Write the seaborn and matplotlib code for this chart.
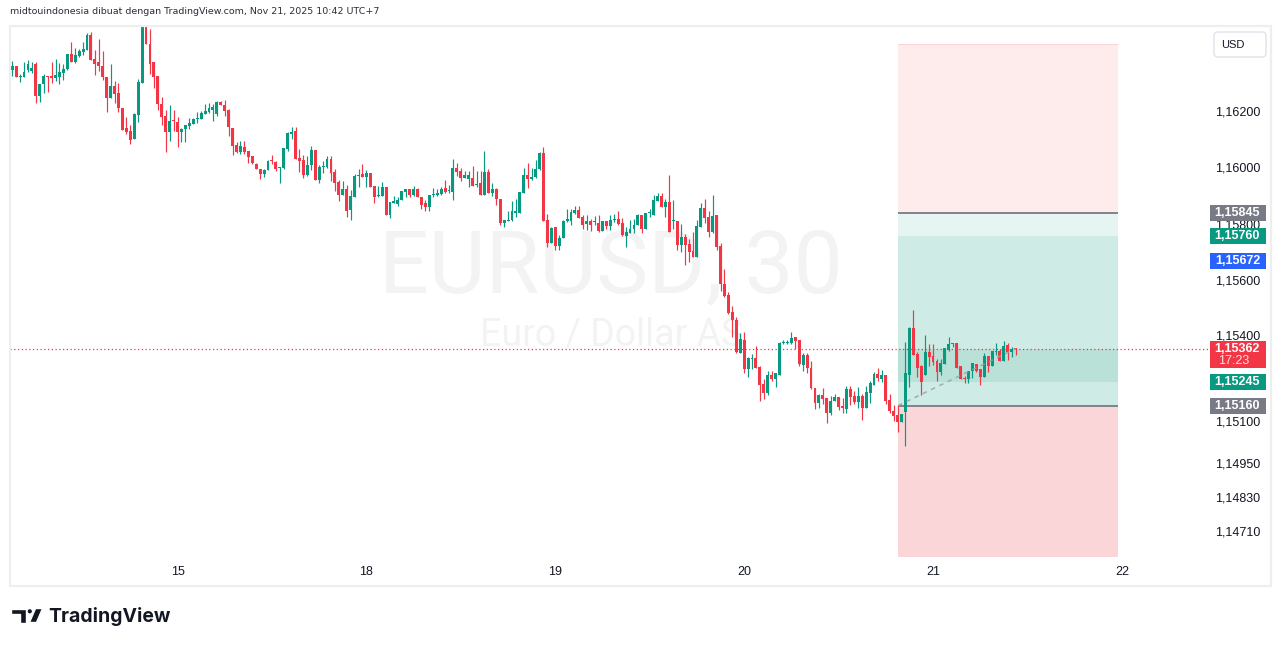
import numpy as np
import pandas as pd
import matplotlib
matplotlib.use("Agg")
import matplotlib.pyplot as plt
import matplotlib.transforms as mtrans
from matplotlib.patches import Rectangle, FancyBboxPatch, Polygon, Circle
import seaborn as sns

# ---------------- data (EURUSD 30m candles) ----------------
open_ = [1.16377,1.16351,1.16365,1.16327,1.16327,1.16351,1.16348,1.16372,1.16259,1.16299,
         1.16329,1.16329,1.16322,1.16327,1.16341,1.16353,1.16407,1.16379,1.16400,1.16415,
         1.16422,1.16476,1.16389,1.16377,1.16365,1.16327,1.16251,1.16294,1.16270,1.16216,
         1.16143,1.16133,1.16107,1.16192,1.16303,1.16530,1.16443,1.16377,1.16329,1.16230,
         1.16188,1.16129,1.16171,1.16166,1.16132,1.16140,1.16151,1.16158,1.16177,1.16177,
         1.16194,1.16201,1.16210,1.16194,1.16236,1.16227,1.16208,1.16144,1.16083,1.16059,
         1.16078,1.16064,1.16045,1.16017,1.16000,1.15981,1.15995,1.16028,1.16024,1.16002,
         1.16002,1.16071,1.16123,1.16135,1.16038,1.16031,1.15979,1.16012,1.16066,1.15960,
         1.16007,1.16007,1.16036,1.15988,1.15953,1.15908,1.15929,1.15854,1.15901,1.15974,
         1.15981,1.15970,1.15984,1.15939,1.15903,1.15903,1.15937,1.15837,1.15880,1.15875,
         1.15889,1.15918,1.15927,1.15908,1.15929,1.15901,1.15877,1.15866,1.15908,1.15908,
         1.15911,1.15932,1.15922,1.15918,1.16003,1.15991,1.15967,1.15965,1.15967,1.15944,
         1.15948,1.15908,1.15989,1.15915,1.15927,1.15894,1.15807,1.15816,1.15818,1.15844,
         1.15844,1.15915,1.15979,1.15965,1.15970,1.15998,1.16057,1.15818,1.15738,1.15792,
         1.15726,1.15755,1.15814,1.15816,1.15844,1.15854,1.15828,1.15804,1.15814,1.15811,
         1.15807,1.15781,1.15814,1.15797,1.15818,1.15821,1.15807,1.15762,1.15773,1.15785,
         1.15799,1.15837,1.15788,1.15842,1.15837,1.15887,1.15903,1.15866,1.15882,1.15814,
         1.15814,1.15731,1.15757,1.15733,1.15707,1.15686,1.15795,1.15861,1.15828,1.15776,
         1.15835,1.15726,1.15592,1.15552,1.15492,1.15464,1.15348,1.15393,1.15291,1.15327,
         1.15329,1.15296,1.15237,1.15204,1.15268,1.15256,1.15270,1.15381,1.15381,1.15381,
         1.15403,1.15393,1.15306,1.15341,1.15294,1.15223,1.15169,1.15197,1.15187,1.15135,
         1.15178,1.15190,1.15159,1.15150,1.15218,1.15195,1.15173,1.15195,1.15152,1.15204,
         1.15235,1.15273,1.15256,1.15268,1.15180,1.15140,1.15126,1.15102,1.15138,1.15270,
         1.15436,1.15344,1.15299,1.15268,1.15351,1.15336,1.15318,1.15280,1.15308,1.15358,
         1.15379,1.15381,1.15299,1.15258,1.15256,1.15282,1.15308,1.15289,1.15261,1.15336,
         1.15301,1.15351,1.15353,1.15320,1.15374,1.15351,1.15364]
high = [1.16377,1.16384,1.16365,1.16337,1.16379,1.16386,1.16377,1.16377,1.16301,1.16337,
        1.16329,1.16377,1.16391,1.16374,1.16372,1.16407,1.16448,1.16429,1.16426,1.16450,
        1.16483,1.16485,1.16422,1.16462,1.16419,1.16327,1.16370,1.16311,1.16303,1.16216,
        1.16183,1.16155,1.16199,1.16318,1.16560,1.16560,1.16495,1.16377,1.16329,1.16254,
        1.16207,1.16225,1.16207,1.16185,1.16144,1.16156,1.16180,1.16180,1.16201,1.16206,
        1.16229,1.16232,1.16229,1.16239,1.16241,1.16244,1.16213,1.16144,1.16095,1.16097,
        1.16099,1.16064,1.16045,1.16021,1.16000,1.15998,1.16031,1.16050,1.16028,1.16005,
        1.16073,1.16130,1.16149,1.16147,1.16071,1.16050,1.16047,1.16080,1.16066,1.16012,
        1.16028,1.16045,1.16045,1.16000,1.15962,1.15958,1.15943,1.15925,1.15981,1.16000,
        1.16017,1.15996,1.15986,1.15939,1.15939,1.15953,1.15937,1.15882,1.15903,1.15901,
        1.15922,1.15927,1.15927,1.15939,1.15932,1.15901,1.15889,1.15908,1.15932,1.15930,
        1.15937,1.15960,1.15941,1.16033,1.16019,1.16003,1.15991,1.15991,1.16010,1.15993,
        1.15991,1.16062,1.16000,1.15951,1.15932,1.15894,1.15818,1.15851,1.15885,1.15892,
        1.15918,1.16003,1.16019,1.16003,1.16031,1.16059,1.16076,1.15840,1.15795,1.15792,
        1.15766,1.15818,1.15856,1.15859,1.15868,1.15868,1.15835,1.15835,1.15823,1.15833,
        1.15835,1.15814,1.15814,1.15837,1.15840,1.15849,1.15825,1.15792,1.15818,1.15821,
        1.15840,1.15837,1.15842,1.15859,1.15906,1.15915,1.15915,1.15894,1.15977,1.15889,
        1.15814,1.15804,1.15769,1.15750,1.15776,1.15818,1.15880,1.15892,1.15851,1.15906,
        1.15837,1.15736,1.15646,1.15563,1.15514,1.15474,1.15417,1.15422,1.15334,1.15344,
        1.15372,1.15299,1.15256,1.15282,1.15282,1.15275,1.15386,1.15393,1.15393,1.15422,
        1.15405,1.15393,1.15346,1.15348,1.15318,1.15223,1.15202,1.15223,1.15187,1.15195,
        1.15202,1.15192,1.15187,1.15230,1.15230,1.15211,1.15228,1.15202,1.15230,1.15247,
        1.15280,1.15294,1.15287,1.15268,1.15202,1.15161,1.15164,1.15131,1.15386,1.15440,
        1.15500,1.15351,1.15303,1.15410,1.15379,1.15379,1.15327,1.15327,1.15365,1.15403,
        1.15384,1.15384,1.15299,1.15266,1.15284,1.15310,1.15308,1.15289,1.15346,1.15336,
        1.15355,1.15381,1.15362,1.15388,1.15381,1.15367,1.15365]
low = [1.16353,1.16329,1.16327,1.16308,1.16327,1.16344,1.16341,1.16235,1.16237,1.16270,
       1.16273,1.16303,1.16311,1.16299,1.16315,1.16351,1.16379,1.16374,1.16396,1.16405,
       1.16422,1.16386,1.16334,1.16348,1.16315,1.16202,1.16251,1.16235,1.16202,1.16138,
       1.16124,1.16088,1.16107,1.16166,1.16303,1.16441,1.16337,1.16285,1.16209,1.16155,
       1.16060,1.16100,1.16133,1.16079,1.16095,1.16095,1.16142,1.16158,1.16161,1.16175,
       1.16194,1.16199,1.16170,1.16189,1.16225,1.16189,1.16116,1.16050,1.16057,1.16052,
       1.16052,1.16021,1.16017,1.15998,1.15965,1.15972,1.15995,1.16017,1.15993,1.15950,
       1.15998,1.16064,1.16106,1.16033,1.15988,1.15969,1.15976,1.15995,1.15960,1.15950,
       1.15984,1.16002,1.15955,1.15922,1.15887,1.15908,1.15830,1.15818,1.15901,1.15937,
       1.15970,1.15937,1.15934,1.15880,1.15899,1.15903,1.15837,1.15825,1.15877,1.15868,
       1.15889,1.15901,1.15899,1.15903,1.15899,1.15859,1.15849,1.15849,1.15901,1.15903,
       1.15908,1.15915,1.15915,1.15889,1.15974,1.15955,1.15967,1.15934,1.15939,1.15934,
       1.15908,1.15908,1.15915,1.15903,1.15873,1.15799,1.15792,1.15816,1.15816,1.15828,
       1.15842,1.15915,1.15932,1.15960,1.15967,1.15996,1.15816,1.15724,1.15738,1.15712,
       1.15712,1.15755,1.15811,1.15802,1.15840,1.15825,1.15785,1.15783,1.15781,1.15802,
       1.15776,1.15778,1.15788,1.15783,1.15811,1.15799,1.15762,1.15724,1.15771,1.15771,
       1.15799,1.15773,1.15788,1.15830,1.15837,1.15887,1.15866,1.15830,1.15776,1.15788,
       1.15712,1.15705,1.15658,1.15669,1.15686,1.15686,1.15795,1.15809,1.15759,1.15771,
       1.15712,1.15568,1.15544,1.15485,1.15403,1.15348,1.15346,1.15277,1.15261,1.15291,
       1.15294,1.15176,1.15183,1.15199,1.15249,1.15228,1.15270,1.15379,1.15379,1.15377,
       1.15362,1.15301,1.15284,1.15275,1.15218,1.15147,1.15150,1.15166,1.15098,1.15126,
       1.15176,1.15145,1.15135,1.15133,1.15161,1.15166,1.15150,1.15109,1.15152,1.15171,
       1.15232,1.15247,1.15244,1.15166,1.15135,1.15107,1.15067,1.15102,1.15017,1.15228,
       1.15341,1.15263,1.15199,1.15268,1.15301,1.15303,1.15249,1.15268,1.15308,1.15353,
       1.15367,1.15292,1.15254,1.15240,1.15240,1.15258,1.15280,1.15235,1.15261,1.15280,
       1.15301,1.15339,1.15320,1.15320,1.15322,1.15334,1.15341]
close = [1.16353,1.16365,1.16327,1.16329,1.16344,1.16372,1.16358,1.16259,1.16301,1.16329,
         1.16325,1.16322,1.16334,1.16344,1.16355,1.16407,1.16379,1.16403,1.16419,1.16424,
         1.16476,1.16386,1.16372,1.16363,1.16327,1.16251,1.16294,1.16266,1.16214,1.16138,
         1.16131,1.16103,1.16195,1.16308,1.16530,1.16441,1.16372,1.16327,1.16230,1.16185,
         1.16129,1.16171,1.16169,1.16131,1.16142,1.16156,1.16163,1.16177,1.16180,1.16199,
         1.16206,1.16215,1.16220,1.16236,1.16225,1.16206,1.16147,1.16080,1.16059,1.16080,
         1.16059,1.16043,1.16019,1.16000,1.15981,1.15995,1.16028,1.16026,1.16000,1.16005,
         1.16073,1.16128,1.16132,1.16033,1.16026,1.15979,1.16014,1.16066,1.15960,1.16007,
         1.16010,1.16036,1.15984,1.15950,1.15908,1.15929,1.15851,1.15903,1.15974,1.15979,
         1.15970,1.15984,1.15934,1.15901,1.15908,1.15937,1.15837,1.15882,1.15885,1.15889,
         1.15922,1.15927,1.15908,1.15929,1.15899,1.15873,1.15866,1.15908,1.15911,1.15913,
         1.15929,1.15918,1.15925,1.16003,1.15989,1.15967,1.15979,1.15979,1.15939,1.15946,
         1.15908,1.15989,1.15915,1.15927,1.15892,1.15807,1.15818,1.15818,1.15849,1.15849,
         1.15918,1.15979,1.15965,1.15972,1.16000,1.16057,1.15816,1.15738,1.15790,1.15726,
         1.15755,1.15814,1.15821,1.15847,1.15854,1.15825,1.15802,1.15814,1.15802,1.15814,
         1.15778,1.15814,1.15797,1.15818,1.15821,1.15804,1.15766,1.15776,1.15788,1.15799,
         1.15837,1.15788,1.15842,1.15844,1.15889,1.15903,1.15866,1.15882,1.15776,1.15816,
         1.15731,1.15757,1.15731,1.15705,1.15688,1.15797,1.15861,1.15825,1.15776,1.15833,
         1.15721,1.15592,1.15549,1.15488,1.15464,1.15351,1.15396,1.15291,1.15329,1.15329,
         1.15294,1.15235,1.15204,1.15268,1.15256,1.15275,1.15381,1.15386,1.15384,1.15400,
         1.15391,1.15308,1.15339,1.15294,1.15223,1.15169,1.15197,1.15185,1.15135,1.15178,
         1.15192,1.15157,1.15152,1.15218,1.15192,1.15173,1.15195,1.15152,1.15209,1.15242,
         1.15273,1.15258,1.15268,1.15178,1.15140,1.15124,1.15102,1.15131,1.15275,1.15436,
         1.15341,1.15294,1.15244,1.15351,1.15334,1.15315,1.15280,1.15310,1.15365,1.15377,
         1.15381,1.15294,1.15256,1.15256,1.15284,1.15310,1.15282,1.15261,1.15336,1.15301,
         1.15353,1.15353,1.15320,1.15372,1.15351,1.15360,1.15362]

day_labels = ["15", "18", "19", "20", "21", "22"]
day_candle_index = [43, 91, 139, 187, 235, 283]

price_ticks = [1.16200, 1.16000, 1.15800, 1.15600, 1.15400, 1.15100, 1.14950, 1.14830, 1.14710]
price_tick_labels = ["1,16200", "1,16000", "1,15800", "1,15600", "1,15400",
                     "1,15100", "1,14950", "1,14830", "1,14710"]

last_price = 1.15362
last_price_label = "1,15362"
countdown = "17:23"
level_labels = ["1,15845", "1,15760", "1,15672", "1,15245", "1,15160"]
level_values = [1.15845, 1.15760, 1.15672, 1.15245, 1.15160]
level_colors = ["#787b86", "#089981", "#2962ff", "#089981", "#787b86"]

# position tool zones (price bounds)
short_stop, short_entry = 1.16443, 1.15845
long_target, long_entry, long_stop = 1.15760, 1.15160, 1.14623
progress_lo, progress_hi = 1.15245, 1.15362
tool_start, tool_end = 226.1, 282.0

header = "midtouindonesia dibuat dengan TradingView.com, Nov 21, 2025 10:42 UTC+7"

# ---------------- style ----------------
sns.set_theme(style="white")
plt.rcParams["font.family"] = ["Liberation Sans", "DejaVu Sans"]

W, H = 1281, 646
fig = plt.figure(figsize=(W / 100, H / 100), dpi=100)
fig.patch.set_facecolor("white")

UP, DN = "#089981", "#f23645"
TXT = "#131722"

# pane in pixels: x 10..1208, y 27..586
pl, pr, pt, pb = 10, 1208, 27, 586
ax = fig.add_axes([pl / W, 1 - pb / H, (pr - pl) / W, (pb - pt) / H])
ax.set_facecolor("white")
y_top = 1.154 + (338 - pt) / 28200
y_bot = 1.154 - (pb - 338) / 28200
ax.set_ylim(y_bot, y_top)
x0, dx = 8.3, 3.935
ax.set_xlim((pl - x0) / dx, (pr - x0) / dx)
ax.axis("off")

ov = fig.add_axes([0, 0, 1, 1], zorder=5)
ov.set_xlim(0, W)
ov.set_ylim(H, 0)
ov.axis("off")
ov.patch.set_alpha(0)

df = pd.DataFrame({"open": open_, "high": high, "low": low, "close": close})
df["idx"] = np.arange(len(df))
df["up"] = df["close"] >= df["open"]
df["color"] = np.where(df["up"], UP, DN)

# watermark
ax.text((611 - pl) / (pr - pl), 1 - (268 - pt) / (pb - pt), "EURUSD, 30",
        transform=ax.transAxes, ha="center", va="center", fontsize=63,
        family="Roboto", color="#f3f3f4", zorder=0)
ax.text((612 - pl) / (pr - pl), 1 - (336 - pt) / (pb - pt), "Euro / Dollar AS",
        transform=ax.transAxes, ha="center", va="center", fontsize=27,
        family="Roboto", color="#f3f3f4", zorder=0)

# position tool zones
def zone(lo, hi, col, z=1):
    ax.add_patch(Rectangle((tool_start, lo), tool_end - tool_start, hi - lo,
                           facecolor=col, edgecolor="none", zorder=z))

zone(short_entry, short_stop, "#feebec")
zone(long_target, short_entry, "#e6f5f2")
zone(long_entry, long_target, "#cfebe5")
zone(progress_lo, progress_hi, "#b9e1d7", 1.5)
zone(long_stop, long_entry, "#fbd6d9")
ax.hlines([short_stop], tool_start, tool_end, color="#fcd3d7", lw=0.8, zorder=2)
ax.hlines([short_entry, long_entry], tool_start, tool_end, color="#787b86", lw=1.3, zorder=2)

# candles
ax.vlines(df["idx"], df["low"], df["high"], colors=df["color"], lw=0.85, zorder=3)
body_lo = np.minimum(df["open"], df["close"])
body_h = np.maximum(np.abs(df["close"] - df["open"]), 0.000035)
ax.bar(df["idx"], body_h, bottom=body_lo, width=0.74, color=df["color"],
       linewidth=0, zorder=4)

# dashed connector from entry to last price
ax.plot([tool_start, df["idx"].iloc[-1]], [long_entry, last_price],
        color="#9aa0aa", lw=1.1, ls=(0, (3, 3)), alpha=0.85, zorder=5)

# last price dotted line
ax.axhline(last_price, color=DN, lw=0.9, ls=(0, (1, 2)), zorder=2.5)

# ---------------- overlay (pixel coordinates) ----------------
ov.add_patch(Rectangle((10, 26), 1261, 560, fill=False, edgecolor="#eeeeee", lw=1.6))
ov.text(10, 12, header, ha="left", va="center", fontsize=6.8,
        family="DejaVu Sans", color="#2a2e39")

# date labels
tx = mtrans.blended_transform_factory(ax.transData, ov.transData)
for lab, pos in zip(day_labels, day_candle_index):
    ov.text(pos, 572, lab, transform=tx, ha="center", va="center",
            fontsize=9, color=TXT)

# price scale
ty = mtrans.blended_transform_factory(ov.transData, ax.transData)
px_per = 28200
for v, lab in zip(price_ticks, price_tick_labels):
    dy = 1.5 if lab == "1,15400" else 0
    ov.text(1260, v + dy / px_per, lab, transform=ty, ha="right", va="center",
            fontsize=9, color=TXT)

def box(price, col, h_px=16, dy_px=0):
    h = h_px / px_per
    ov.add_patch(Rectangle((1210, price - h / 2 + dy_px / px_per), 56, h,
                           transform=ty, facecolor=col, edgecolor="none", zorder=6))

for lab, v, col in zip(level_labels, level_values, level_colors):
    box(v, col)
    ov.text(1260, v, lab, transform=ty, ha="right", va="center", fontsize=9,
            color="white", fontweight="bold", zorder=7)

box(last_price, DN, h_px=27, dy_px=-6)
ov.text(1260, last_price - 0.5 / px_per, last_price_label, transform=ty, ha="right",
        va="center", fontsize=9, color="white", fontweight="bold", zorder=7)
ov.text(1218, last_price - 12.5 / px_per, countdown, transform=ty, ha="left",
        va="center", fontsize=9, color="#ffdde0", zorder=7)

# USD button
ov.add_patch(FancyBboxPatch((1214, 32), 52, 25, boxstyle="round,pad=0,rounding_size=4",
                            facecolor="white", edgecolor="#e0e3eb", lw=1))
ov.text(1233, 44.5, "USD", ha="center", va="center", fontsize=8, color=TXT)

# TradingView logo
ov.add_patch(Polygon([(11, 608.5), (25.5, 608.5), (25.5, 622.5), (19.5, 622.5),
                      (19.5, 614), (11, 614)], closed=True, facecolor="#131722"))
ov.add_patch(Circle((29.8, 611.3), 2.8, facecolor="#131722"))
ov.add_patch(Polygon([(35.5, 608.5), (42.5, 608.5), (36.5, 622.5), (29.5, 622.5)],
                     closed=True, facecolor="#131722"))
ov.text(48, 616, "TradingView", ha="left", va="center", fontsize=14,
        fontweight="bold", family="Inter", color="#131722")

fig.savefig("out.png", dpi=100, facecolor="white")
